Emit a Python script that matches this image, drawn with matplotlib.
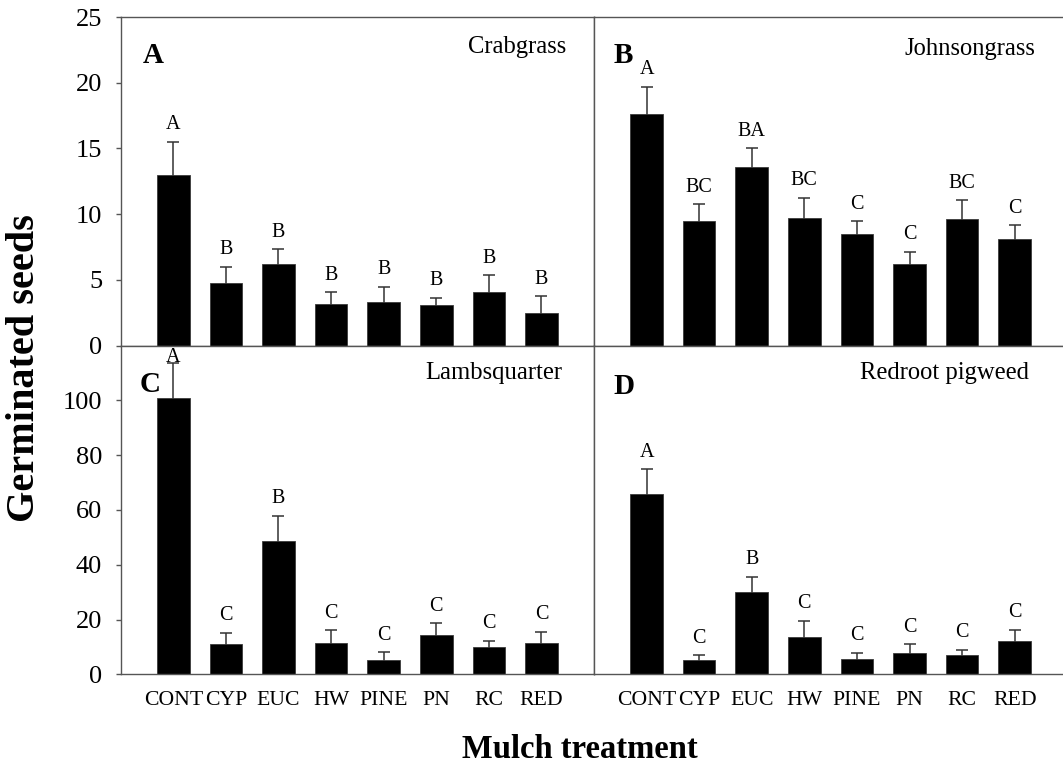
import numpy as np
import matplotlib
matplotlib.use('Agg')
import matplotlib.pyplot as plt

plt.rcParams['font.family'] = ['Liberation Serif', 'DejaVu Serif']

treatments = ['CONT', 'CYP', 'EUC', 'HW', 'PINE', 'PN', 'RC', 'RED']

crab_mean = [13.0, 4.8, 6.2, 3.2, 3.3, 3.1, 4.1, 2.5]
crab_se = [2.5, 1.2, 1.15, 0.86, 1.2, 0.55, 1.25, 1.28]
crab_letters = ['A', 'B', 'B', 'B', 'B', 'B', 'B', 'B']

john_mean = [17.6, 9.5, 13.6, 9.7, 8.5, 6.2, 9.6, 8.1]
john_se = [2.1, 1.25, 1.4, 1.55, 0.95, 0.95, 1.45, 1.05]
john_letters = ['A', 'BC', 'BA', 'BC', 'C', 'C', 'BC', 'C']

lamb_mean = [101.0, 11.1, 48.7, 11.6, 5.2, 14.4, 10.0, 11.5]
lamb_se = [12.6, 4.0, 9.2, 4.5, 2.8, 4.2, 2.2, 4.0]
lamb_letters = ['A', 'C', 'B', 'C', 'C', 'C', 'C', 'C']

red_mean = [65.9, 5.2, 30.1, 13.6, 5.6, 7.8, 7.1, 12.1]
red_se = [9.0, 1.7, 5.5, 6.0, 2.3, 3.2, 1.9, 4.2]
red_letters = ['A', 'C', 'B', 'C', 'C', 'C', 'C', 'C']

W, H = 1063, 766
fig = plt.figure(figsize=(W / 100, H / 100), dpi=100)

x0l, x0r = 120.7, 594.0
aw = 473.3
yt, ym, yb = 17.0, 345.7, 674.3


def make_ax(left, top, bottom):
    return fig.add_axes([left / W, 1 - bottom / H, aw / W, (bottom - top) / H])


panels = [
    (make_ax(x0l, yt, ym), crab_mean, crab_se, crab_letters, 'A', 'Crabgrass', 25, (0.047, 0.86), (0.942, 0.891), True, False),
    (make_ax(x0r, yt, ym), john_mean, john_se, john_letters, 'B', 'Johnsongrass', 25, (0.041, 0.86), (0.932, 0.884), False, False),
    (make_ax(x0l, ym, yb), lamb_mean, lamb_se, lamb_letters, 'C', 'Lambsquarter', 120, (0.039, 0.858), (0.932, 0.898), True, True),
    (make_ax(x0r, ym, yb), red_mean, red_se, red_letters, 'D', 'Redroot pigweed', 120, (0.041, 0.852), (0.919, 0.898), False, True),
]

spine_col = '#555555'
x = np.arange(len(treatments))

for ax, mean, se, letters, tag, name, ymax, tag_pos, name_pos, is_left, is_bottom in panels:
    mean = np.array(mean)
    se = np.array(se)
    # symmetric error bars drawn behind the bars, so only the upper half shows
    ax.errorbar(x, mean, yerr=se, fmt='none', ecolor='#333333',
                elinewidth=1.1, capsize=4.5, capthick=1.1, zorder=1)
    ax.bar(x, mean, width=0.62, color='black', edgecolor='#3a3a3a', linewidth=0.6, zorder=2)
    ax.set_xlim(-1, 8)
    ax.set_ylim(0, ymax)
    for i, lab in enumerate(letters):
        gap = 9
        if ymax == 120 and mean[i] + se[i] > 110:
            gap = 1.2
        ax.annotate(lab, (x[i], mean[i] + se[i]), xytext=(0, gap), textcoords='offset points',
                    ha='center', va='baseline', fontsize=14.5, annotation_clip=False)
    ax.text(tag_pos[0], tag_pos[1], tag, transform=ax.transAxes, fontsize=21,
            fontweight='bold', ha='left', va='baseline')
    ax.text(name_pos[0], name_pos[1], name, transform=ax.transAxes, fontsize=17.7,
            ha='right', va='baseline')
    for s in ax.spines.values():
        s.set_color(spine_col)
        s.set_linewidth(1.0)
    if not is_left:
        ax.spines['right'].set_visible(False)
    if is_left:
        if ymax == 25:
            ax.set_yticks([0, 5, 10, 15, 20, 25])
        else:
            ax.set_yticks([0, 20, 40, 60, 80, 100])
        ax.tick_params(axis='y', direction='out', length=3.4, width=1.0, color=spine_col,
                       labelsize=19, pad=10)
    else:
        ax.set_yticks([])
    if is_bottom:
        ax.set_xticks(x)
        ax.set_xticklabels(treatments)
        ax.tick_params(axis='x', length=0, labelsize=15.7, pad=12)
    else:
        ax.set_xticks([])

fig.text(25 / W, 1 - 368 / H, 'Germinated seeds', rotation=90, ha='center', va='center',
         fontsize=29, fontweight='bold')
fig.text(580 / W, 1 - 758 / H, 'Mulch treatment', ha='center', va='baseline',
         fontsize=23.5, fontweight='bold')

fig.savefig('out.png', dpi=100)
